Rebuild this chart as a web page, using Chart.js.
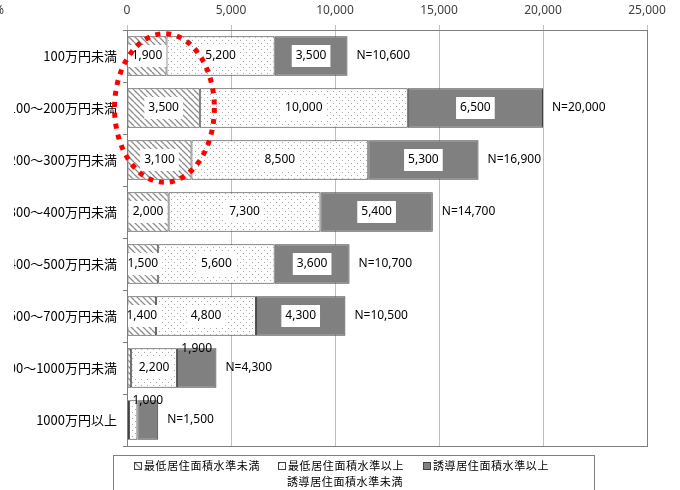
<!DOCTYPE html>
<html>
<head>
<meta charset="utf-8">
<script src="https://cdn.jsdelivr.net/npm/chart.js@4"></script>
<style>
html, body { margin: 0; padding: 0; background: #fff; overflow: hidden; width: 680px; height: 490px; }
#wrap { position: absolute; left: -40px; top: 0; width: 720px; height: 490px; }
</style>
</head>
<body>
<div id="wrap"><canvas id="chart" width="720" height="490"></canvas></div>
<script>
// 世帯年収別 居住面積水準（世帯数）
const categories = ['100万円未満', '100～200万円未満', '200～300万円未満', '300～400万円未満',
  '400～500万円未満', '500～700万円未満', '700～1000万円未満', '1000万円以上'];
const seriesNames = ['最低居住面積水準未満', ['最低居住面積水準以上', '誘導居住面積水準未満'], '誘導居住面積水準以上'];
const belowMin   = [1900, 3500, 3100, 2000, 1500, 1400, 200, 100];
const minToGuide = [5200, 10000, 8500, 7300, 5600, 4800, 2200, 400];
const aboveGuide = [3500, 6500, 5300, 5400, 3600, 4300, 1900, 1000];
const totals     = [10600, 20000, 16900, 14700, 10700, 10500, 4300, 1500];
const xTicks = [0, 5000, 10000, 15000, 20000, 25000];

const fmt = v => v.toLocaleString('en-US');
const FONT = '"Noto Sans", "Noto Sans CJK JP", sans-serif';
const JFONT = '"Noto Sans CJK JP", sans-serif';

function hatchPattern() {
  const c = document.createElement('canvas');
  c.width = c.height = 6;
  const g = c.getContext('2d');
  g.fillStyle = '#fff';
  g.fillRect(0, 0, 6, 6);
  g.strokeStyle = '#8c8c8c';
  g.lineWidth = 1.3;
  g.beginPath();
  for (let k = -6; k <= 6; k += 6) { g.moveTo(k, 0); g.lineTo(k + 6, 6); }
  g.stroke();
  return g.createPattern(c, 'repeat');
}

function dotPattern() {
  const c = document.createElement('canvas');
  c.width = c.height = 6;
  const g = c.getContext('2d');
  g.fillStyle = '#fff';
  g.fillRect(0, 0, 6, 6);
  g.fillStyle = '#a6a6a6';
  g.fillRect(1, 1, 1, 1);
  g.fillRect(4, 4, 1, 1);
  return g.createPattern(c, 'repeat');
}

const fills = [hatchPattern(), dotPattern(), '#808080'];

// 値ラベルと N= ラベル
const labelPlugin = {
  id: 'labels',
  afterDatasetsDraw(chart) {
    const ctx = chart.ctx;
    const last = chart.data.datasets.length - 1;
    ctx.save();
    ctx.font = '12px ' + FONT;
    ctx.textBaseline = 'middle';
    chart.data.datasets.forEach((ds, i) => {
      chart.getDatasetMeta(i).data.forEach((bar, j) => {
        const p = bar.getProps(['x', 'y', 'base', 'height'], true);
        const w = p.x - p.base;
        if (w < 15) return;
        const txt = fmt(ds.data[j]);
        const cx = (p.x + p.base) / 2;
        const tw = ctx.measureText(txt).width;
        ctx.textAlign = 'center';
        if (i === last && totals[j] < 5000) {
          ctx.fillStyle = '#000';
          ctx.fillText(txt, cx, p.y - p.height / 2);
        } else {
          ctx.fillStyle = '#fff';
          ctx.fillRect(cx - tw / 2 - 4, p.y - 11, tw + 8, 22);
          ctx.fillStyle = '#000';
          ctx.fillText(txt, cx, p.y);
        }
      });
    });
    chart.getDatasetMeta(last).data.forEach((bar, j) => {
      ctx.textAlign = 'left';
      ctx.fillStyle = '#000';
      ctx.fillText('N=' + fmt(totals[j]), bar.x + 9, bar.y);
    });
    ctx.restore();
  }
};

// 枠線・赤い点線の囲み・凡例
const decorPlugin = {
  id: 'decor',
  afterDraw(chart) {
    const ctx = chart.ctx;
    const a = chart.chartArea;
    const xs = chart.scales.x, ys = chart.scales.y;
    ctx.save();
    // the category labels are cut off on the left, as in the source image
    ctx.fillStyle = '#fff';
    ctx.fillRect(0, a.top + 2, 54, a.bottom - a.top);

    ctx.strokeStyle = '#7f7f7f';
    ctx.lineWidth = 1;
    ctx.strokeRect(Math.round(a.left) + 0.5, Math.round(a.top) + 0.5,
      Math.round(a.right - a.left), Math.round(a.bottom - a.top));

    // red dotted ellipse around 最低居住面積水準未満 of the first three rows
    const cx = xs.getPixelForValue(1800);
    const rx = xs.getPixelForValue(4200) - cx;
    const cy = ys.getPixelForValue(1);
    const ry = (ys.getPixelForValue(1) - ys.getPixelForValue(0)) * 1.43;
    ctx.strokeStyle = '#ff0000';
    ctx.lineWidth = 5;
    ctx.setLineDash([5, 6]);
    ctx.beginPath();
    ctx.ellipse(cx, cy, rx, ry, 0, 0, Math.PI * 2);
    ctx.stroke();
    ctx.setLineDash([]);

    ctx.fillStyle = '#404040';
    ctx.font = '12px ' + FONT;
    ctx.textBaseline = 'middle';
    ctx.fillText('%', 34, 11);

    // legend
    ctx.strokeStyle = '#7f7f7f';
    ctx.lineWidth = 1;
    ctx.strokeRect(153.5, 455.5, 481, 60);
    ctx.font = '11px ' + JFONT;
    ctx.letterSpacing = '0.6px';
    const xPos = [174, 318, 463];
    seriesNames.forEach((name, i) => {
      const lines = Array.isArray(name) ? name : [name];
      ctx.fillStyle = fills[i];
      ctx.fillRect(xPos[i], 462, 7, 7);
      ctx.strokeStyle = '#404040';
      ctx.strokeRect(xPos[i] + 0.5, 462.5, 7, 7);
      ctx.fillStyle = '#000';
      ctx.textAlign = 'left';
      ctx.fillText(lines[0], xPos[i] + 10, 466);
      if (lines[1]) {
        const w0 = ctx.measureText(lines[0]).width + 10;
        ctx.textAlign = 'center';
        ctx.fillText(lines[1], xPos[i] + w0 / 2 + 4, 482);
      }
    });
    ctx.restore();
  }
};

new Chart(document.getElementById('chart').getContext('2d'), {
  type: 'bar',
  data: {
    labels: categories,
    datasets: [belowMin, minToGuide, aboveGuide].map((d, i) => ({
      label: Array.isArray(seriesNames[i]) ? seriesNames[i].join('') : seriesNames[i],
      data: d,
      backgroundColor: fills[i],
      borderColor: '#404040',
      borderWidth: 1,
      borderSkipped: false,
      barPercentage: 0.76,
      categoryPercentage: 1
    }))
  },
  options: {
    indexAxis: 'y',
    responsive: false,
    animation: false,
    layout: { padding: { left: 0, right: 33, top: 0, bottom: 44 } },
    plugins: {
      legend: { display: false },
      tooltip: { enabled: false }
    },
    scales: {
      x: {
        position: 'top',
        stacked: true,
        min: 0,
        max: 25000,
        afterBuildTicks: s => { s.ticks = xTicks.map(v => ({ value: v })); },
        afterFit: s => { s.height = 30; },
        ticks: { callback: v => fmt(v), color: '#404040', font: { size: 12, family: FONT }, padding: 7, maxRotation: 0 },
        grid: { color: '#bfbfbf', tickLength: 5 },
        border: { color: '#7f7f7f' }
      },
      y: {
        stacked: true,
        afterFit: s => { s.width = 167; },
        ticks: { color: '#000', font: { size: 13, family: JFONT }, padding: 6 },
        grid: { drawOnChartArea: false, offset: true, tickLength: 4, color: '#7f7f7f' },
        border: { color: '#7f7f7f' }
      }
    }
  },
  plugins: [labelPlugin, decorPlugin]
});
</script>
</body>
</html>
